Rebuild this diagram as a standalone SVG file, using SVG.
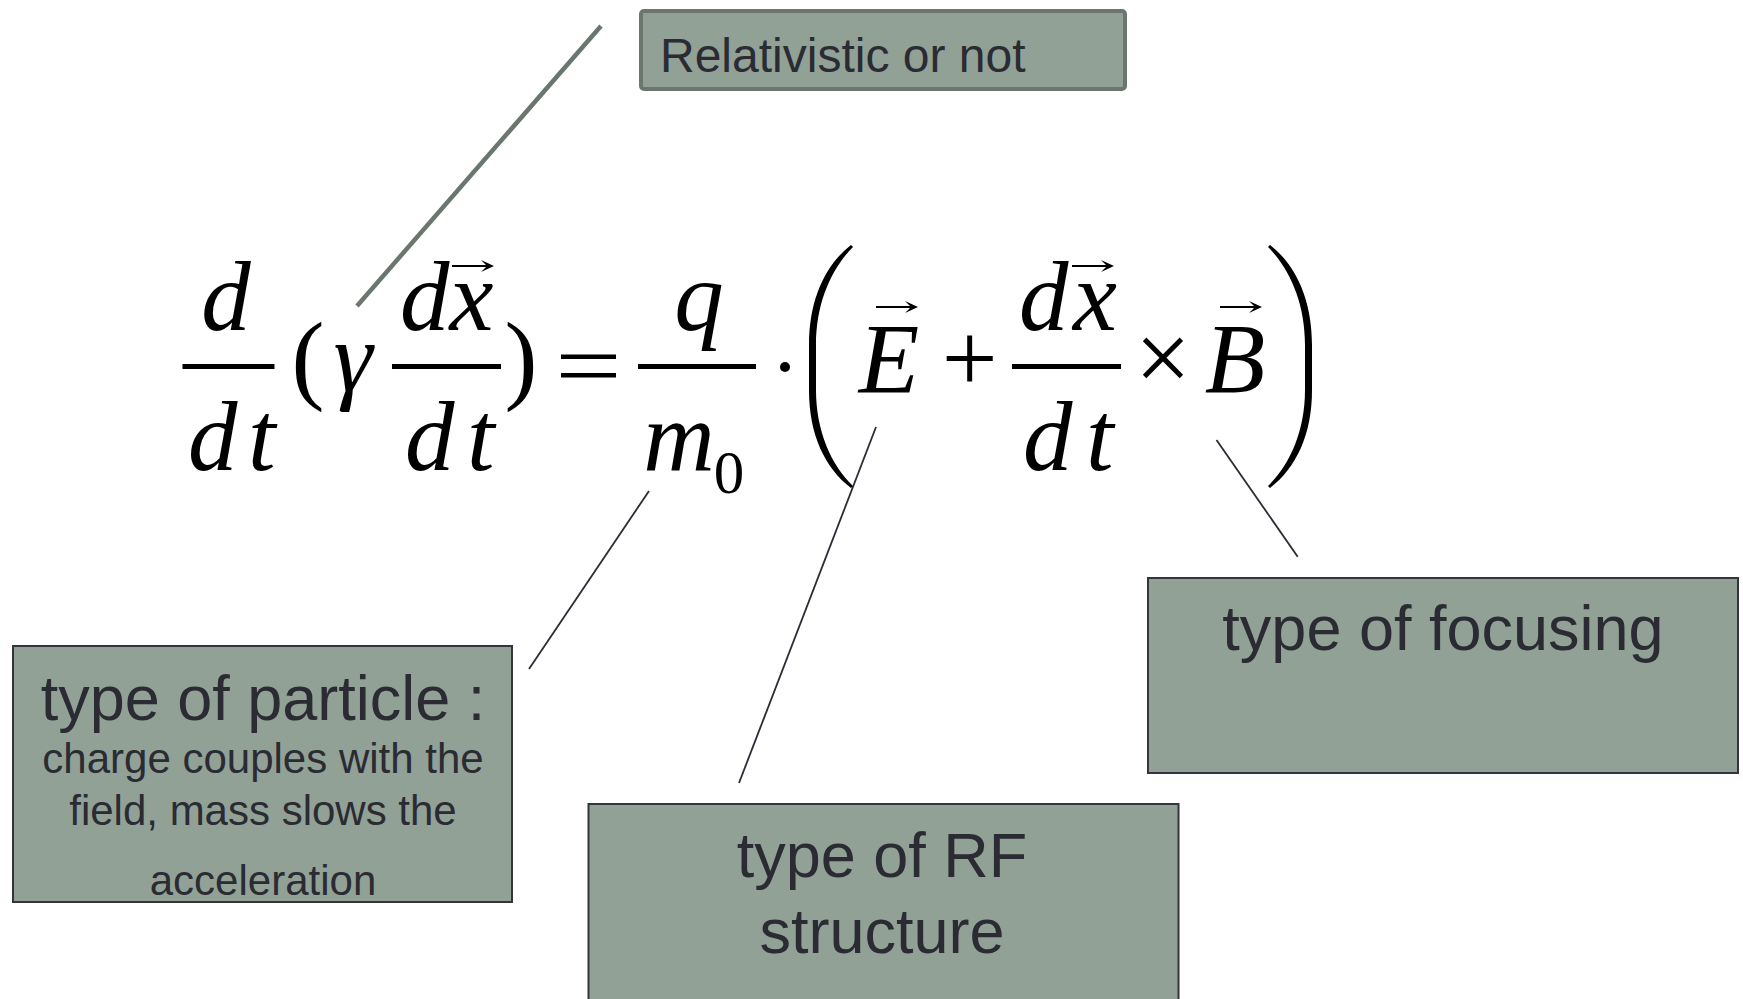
<svg xmlns="http://www.w3.org/2000/svg" width="1743" height="999" viewBox="0 0 1743 999">
<style>
.box{fill:#91a196;stroke:#33343d;stroke-width:2}
.lbl{font-family:"Liberation Sans",Arial,sans-serif;fill:#2a2b33;text-anchor:middle}
.m{font-family:"Liberation Serif","Times New Roman",serif;font-style:italic;font-size:99px;fill:#000;text-anchor:middle}
.ms{font-family:"Liberation Serif","Times New Roman",serif;font-style:italic;font-size:99px;fill:#000}
.r{font-family:"Liberation Serif","Times New Roman",serif;font-size:99px;fill:#000;text-anchor:middle}
.bar{fill:#000}
.conn{stroke:#2b2b35;stroke-width:1.8;fill:none}
</style>
<defs>
<path id="vec" d="M0,-1 H34 L29,-6 L42,0 L29,6 L34,1 H0 Z" fill="#000"/>
</defs>
<rect width="1743" height="999" fill="#fff"/>
<g id="connectors">
<line x1="601" y1="26" x2="357" y2="306" stroke="#6b776e" stroke-width="4.5"/>
<line class="conn" x1="649" y1="491" x2="529" y2="669"/>
<line class="conn" x1="876" y1="427" x2="739" y2="783"/>
<line class="conn" x1="1216.5" y1="440" x2="1297.7" y2="556.7"/>
</g>
<g id="equation">
<text class="m" x="226" y="330">d</text>
<rect class="bar" x="182.5" y="364" width="92" height="5"/>
<text class="ms" x="188" y="470">d<tspan dx="10.5">t</tspan></text>
<text class="r" x="308" y="391">(</text>
<text class="m" x="353" y="391">γ</text>
<rect class="bar" x="392" y="364" width="109" height="5"/>
<text class="ms" x="400" y="330">dx</text>
<use href="#vec" x="452" y="266"/>
<text class="ms" x="405" y="470">d<tspan dx="12.5">t</tspan></text>
<text class="r" x="521" y="391">)</text>
<rect class="bar" x="561" y="354.5" width="55" height="4.5"/>
<rect class="bar" x="561" y="373" width="55" height="4.5"/>
<text class="m" x="699" y="330">q</text>
<rect class="bar" x="638" y="364" width="118" height="5"/>
<text class="m" x="679" y="470">m</text>
<text class="r" x="729" y="493" style="font-size:61px">0</text>
<circle cx="785" cy="367" r="5"/>
<path d="M851,245 C825,265 809,300 809,345 L809,390 C809,435 825,468 851,488 L853,486 C832,466 816,432 816,390 L816,345 C816,302 832,268 853,247 Z"/>
<text class="m" x="889" y="391.7">E</text>
<use href="#vec" x="876" y="307"/>
<text class="r" x="969.6" y="391.7">+</text>
<rect class="bar" x="1012" y="364" width="109" height="5"/>
<text class="ms" x="1019" y="330">d<tspan dx="4.5">x</tspan></text>
<use href="#vec" x="1072" y="266"/>
<text class="ms" x="1023" y="470">d<tspan dx="13.5">t</tspan></text>
<text class="r" x="1163" y="391">×</text>
<text class="m" x="1235" y="391.7">B</text>
<use href="#vec" x="1220" y="307"/>
<path d="M1270,245 C1296,265 1312,300 1312,345 L1312,390 C1312,435 1296,468 1270,488 L1268,486 C1289,466 1305,432 1305,390 L1305,345 C1305,302 1289,268 1268,247 Z"/>
</g>
<g id="relativistic">
<rect x="641" y="11" width="484" height="78" rx="3" fill="#91a196" stroke="#6b776e" stroke-width="4"/>
<text class="lbl" x="660" y="72" style="font-size:48px;text-anchor:start">Relativistic or not</text>
</g>
<g id="particle">
<rect class="box" x="13" y="646" width="499" height="256"/>
<text class="lbl" x="263" y="720" style="font-size:63px">type of particle :</text>
<text class="lbl" x="263" y="773" style="font-size:42px">charge couples with the</text>
<text class="lbl" x="263" y="825" style="font-size:42px">field, mass slows the</text>
<text class="lbl" x="263" y="895" style="font-size:42px">acceleration</text>
</g>
<g id="rf">
<rect class="box" x="588.5" y="804" width="590" height="210"/>
<text class="lbl" x="882" y="877" style="font-size:63px">type of RF</text>
<text class="lbl" x="882" y="953" style="font-size:63px">structure</text>
</g>
<g id="focusing">
<rect class="box" x="1148" y="578" width="590" height="195"/>
<text class="lbl" x="1443" y="650" style="font-size:63px">type of focusing</text>
</g>
</svg>
